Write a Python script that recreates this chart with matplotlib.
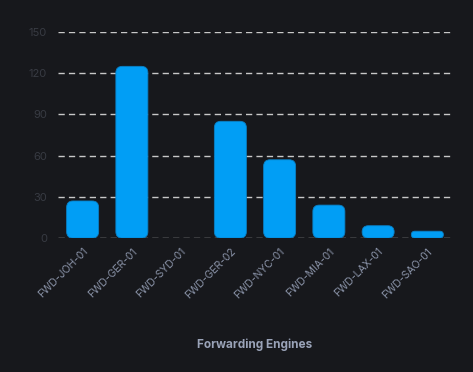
import matplotlib
matplotlib.use('Agg')
import numpy as np
from matplotlib import pyplot as plt
from matplotlib.patches import FancyBboxPatch

engines = ['FWD-JOH-01', 'FWD-GER-01', 'FWD-SYD-01', 'FWD-GER-02',
           'FWD-NYC-01', 'FWD-MIA-01', 'FWD-LAX-01', 'FWD-SAO-01']
values = [27, 125, 0, 85, 57, 24, 9, 5]
yticks = [0, 30, 60, 90, 120, 150]

bg = '#17181c'
bar_color = '#019ef5'
plt.rcParams['font.family'] = ['Inter', 'DejaVu Sans']

fig = plt.figure(figsize=(4.73, 3.72), dpi=100, facecolor=bg)
ax = fig.add_axes([0.1226, 0.360, 0.833, 0.554], facecolor=bg)

x = np.arange(len(engines))
width = 0.65
ax.set_xlim(-0.5, len(engines) - 0.5)
ax.set_ylim(0, 150)

# rounded bars: radius in x units, aspect converts to y units
aspect = (150 / 206.0) / (1 / 49.25)
for xi, v in zip(x, values):
    if v <= 0:
        continue
    r = min(0.13, width / 2, v / aspect / 2)
    p = FancyBboxPatch((xi - width / 2, 0), width, v,
                       boxstyle=f'round,pad=0,rounding_size={r}',
                       mutation_aspect=aspect, facecolor=bar_color,
                       edgecolor='#0a7fc4', linewidth=0.6, zorder=3)
    ax.add_patch(p)

ax.set_yticks(yticks)
ax.set_yticklabels([str(t) for t in yticks])
for t in yticks:
    ax.axhline(t, color='#c8c8c8', linestyle=(0, (4.5, 3)), linewidth=1.0, zorder=1)

ax.set_xticks(x)
ax.set_xticklabels(engines, rotation=45, ha='right', rotation_mode='anchor')
ax.tick_params(axis='x', colors='#8a93a8', labelsize=7.5, length=0, pad=6)
ax.tick_params(axis='y', colors='#383b43', labelsize=8, length=0, pad=8)
for s in ax.spines.values():
    s.set_visible(False)

fig.text(0.539, 0.074, 'Forwarding Engines', ha='center', va='center',
         color='#9aa3b8', fontsize=8.5, fontweight='bold')

fig.savefig('out.png', dpi=100, facecolor=bg)
